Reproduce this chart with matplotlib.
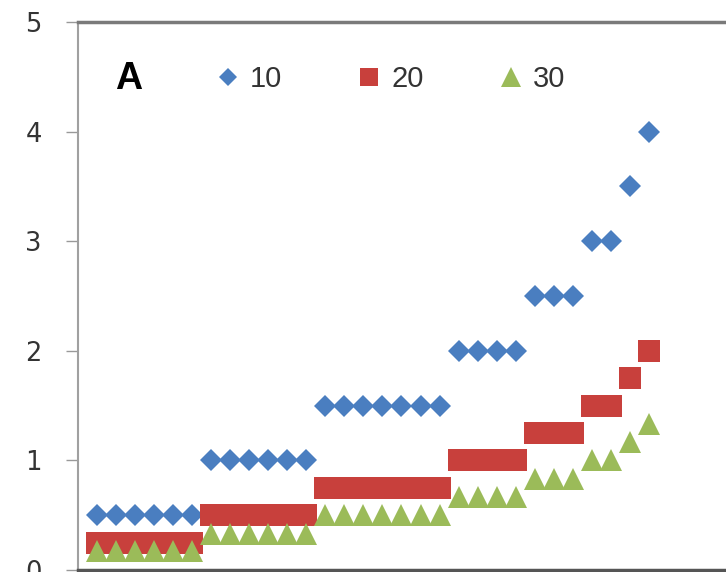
import matplotlib
matplotlib.use('Agg')
import matplotlib.pyplot as plt
from matplotlib.lines import Line2D
import numpy as np

# series values, sorted, one point per sample
x = np.arange(1, 31)
s10 = [0.5, 0.5, 0.5, 0.5, 0.5, 0.5,
       1.0, 1.0, 1.0, 1.0, 1.0, 1.0,
       1.5, 1.5, 1.5, 1.5, 1.5, 1.5, 1.5,
       2.0, 2.0, 2.0, 2.0,
       2.5, 2.5, 2.5,
       3.0, 3.0,
       3.5,
       4.0]
s20 = [0.25, 0.25, 0.25, 0.25, 0.25, 0.25,
       0.5, 0.5, 0.5, 0.5, 0.5, 0.5,
       0.75, 0.75, 0.75, 0.75, 0.75, 0.75, 0.75,
       1.0, 1.0, 1.0, 1.0,
       1.25, 1.25, 1.25,
       1.5, 1.5,
       1.75,
       2.0]
s30 = [0.17, 0.17, 0.17, 0.17, 0.17, 0.17,
       0.33, 0.33, 0.33, 0.33, 0.33, 0.33,
       0.5, 0.5, 0.5, 0.5, 0.5, 0.5, 0.5,
       0.67, 0.67, 0.67, 0.67,
       0.83, 0.83, 0.83,
       1.0, 1.0,
       1.17,
       1.33]
series_names = ['10', '20', '30']
y_ticks = [0, 1, 2, 3, 4, 5]

blue = '#4A7EC0'
red = '#C8403C'
green = '#9BBB59'

W, H = 726, 572
fig = plt.figure(figsize=(W / 100, H / 100), dpi=100)
ax = fig.add_axes([78 / W, 2 / H, 647 / W, 548 / H])

ax.plot(x, s10, linestyle='none', marker='D', ms=11.7, mew=0, color=blue)
ax.plot(x, s20, linestyle='none', marker='s', ms=16.5, mew=0, color=red)
ax.plot(x, s30, linestyle='none', marker='^', ms=15.5, mew=0, color=green)

ax.set_xlim(0, 34)
ax.set_ylim(0, 5)
ax.set_xticks([])
ax.set_yticks(y_ticks)
ax.tick_params(axis='y', direction='out', length=9, width=1, color='#999999',
               pad=17, labelsize=18.5, labelcolor='#333333')

ax.spines['right'].set_visible(False)
ax.spines['left'].set_color('#a0a0a0')
ax.spines['left'].set_linewidth(1.5)
ax.spines['top'].set_color('#7a7a7a')
ax.spines['top'].set_linewidth(2.5)
ax.spines['bottom'].set_color('#555555')
ax.spines['bottom'].set_linewidth(2.5)

ax.text((115 - 78) / 647, (570 - 79) / 548, 'A', transform=ax.transAxes,
        fontsize=27, fontweight='bold', family='Liberation Sans',
        ha='left', va='center', color='black')

handles = [
    Line2D([], [], linestyle='none', marker='D', ms=9.5, mew=0, color=blue),
    Line2D([], [], linestyle='none', marker='s', ms=13.5, mew=0, color=red),
    Line2D([], [], linestyle='none', marker='^', ms=14, mew=0, color=green),
]
leg = ax.legend(handles, series_names, ncol=3, frameon=False,
                loc='center left',
                bbox_to_anchor=((216 - 78) / 647, (570 - 79) / 548),
                borderpad=0, borderaxespad=0,
                handlelength=0.8, handletextpad=0.35, columnspacing=2.6,
                prop={'family': 'Liberation Sans', 'size': 21})
for t in leg.get_texts():
    t.set_color('#333333')

fig.savefig('out.png', dpi=100)
